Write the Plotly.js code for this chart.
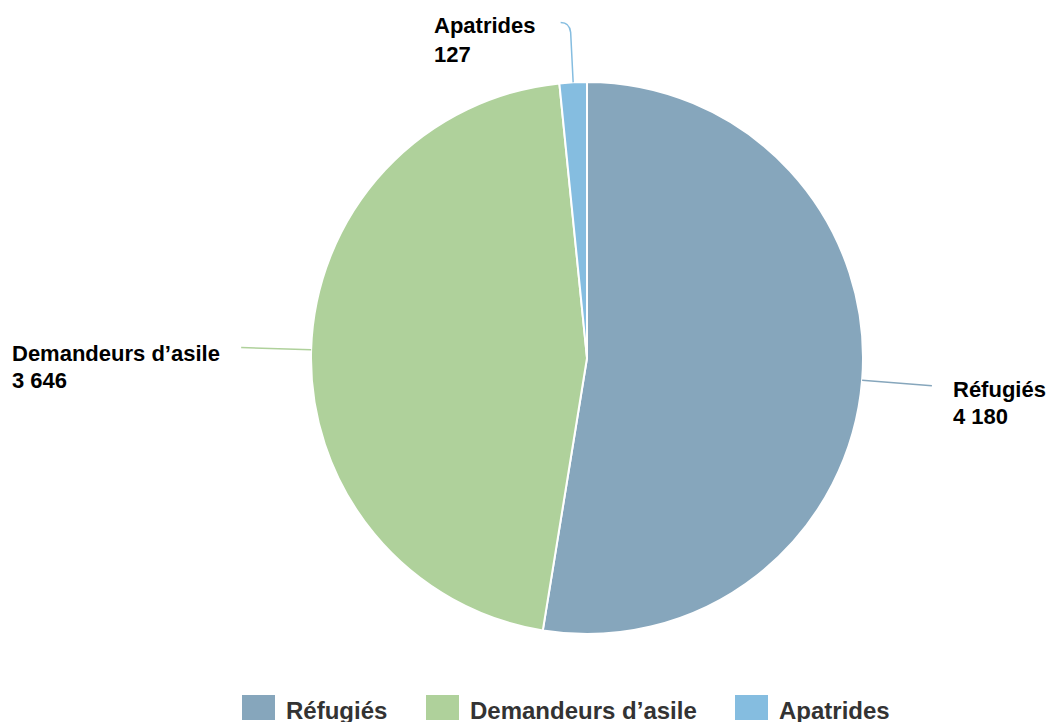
<!DOCTYPE html>
<html>
<head>
<meta charset="utf-8">
<script src="https://cdn.plot.ly/plotly-3.0.1.min.js"></script>
<style>html,body{margin:0;padding:0;background:#fff;}#chart{width:1048px;height:722px;}</style>
</head>
<body>
<div id="chart"></div>
<script>
// ---- data ----
const labels = ['Réfugiés', 'Demandeurs d’asile', 'Apatrides'];
const values = [4180, 3646, 127];
const colors = ['#86a6bc', '#afd19b', '#85bde0'];

// ---- layout geometry (pixels) ----
const W = 1048, H = 722;
const CX = 587, CY = 358, R = 276;
const FONT = 'Liberation Sans, Arial, Helvetica, sans-serif';
// label placement per slice: connector length, text left x, baselines
const labelCfg = [
  {len: 70, tx: 951, base: [397, 423.5]},
  {len: 70, tx: 10,  base: [360.7, 388.3]},
  {len: 50, tx: 432, base: [33.3, 61.7], crook: true}
];
const legendX = [242, 426, 735];   // legend swatch left edges
const swatchW = 33, swatchTop = 695, swatchBot = 720, legendBase = 718;

const px = x => x / W;
const py = y => 1 - y / H;
const fmt = v => String(v).replace(/\B(?=(\d{3})+(?!\d))/g, ' ');

const total = values.reduce((a, b) => a + b, 0);
const shapes = [], annotations = [];
let cum = 0;
values.forEach((v, i) => {
  const mid = (cum + v / 2) / total * 2 * Math.PI; // clockwise from 12 o'clock
  cum += v;
  const s = Math.sin(mid), c = Math.cos(mid);
  const cfg = labelCfg[i];
  const x0 = CX + R * s, y0 = CY - R * c;
  const x1 = CX + (R + cfg.len) * s, y1 = CY - (R + cfg.len) * c;
  let path;
  if (cfg.crook) {
    const xe = x1 - 10, ye = y1 - 10;
    path = `M${px(x0)},${py(y0)} L${px(x1)},${py(y1)} Q${px(x1 - 1)},${py(ye)} ${px(xe)},${py(ye)}`;
  } else {
    path = `M${px(x0)},${py(y0)} L${px(x1)},${py(y1)}`;
  }
  shapes.push({type: 'path', xref: 'paper', yref: 'paper', path: path,
    line: {color: colors[i], width: 1.5}});
  [labels[i], fmt(v)].forEach((t, k) => {
    annotations.push({xref: 'paper', yref: 'paper', x: px(cfg.tx), y: py(cfg.base[k] - 7.3),
      xanchor: 'left', yanchor: 'middle', showarrow: false, align: 'left',
      text: '<b>' + t + '</b>', font: {family: FONT, size: 22, color: '#000'}});
  });
  // legend item
  shapes.push({type: 'rect', xref: 'paper', yref: 'paper',
    x0: px(legendX[i]), x1: px(legendX[i] + swatchW), y0: py(swatchBot), y1: py(swatchTop),
    fillcolor: colors[i], line: {width: 0}});
  annotations.push({xref: 'paper', yref: 'paper', x: px(legendX[i] + swatchW + 9), y: py(legendBase - 8),
    xanchor: 'left', yanchor: 'middle', showarrow: false,
    text: '<b>' + labels[i] + '</b>', font: {family: FONT, size: 24, color: '#333'}});
});

const trace = {
  type: 'pie',
  labels: labels,
  values: values,
  sort: false,
  direction: 'clockwise',
  rotation: 0,
  textinfo: 'none',
  hoverinfo: 'label+value',
  marker: {colors: colors, line: {color: '#fff', width: 2}},
  domain: {x: [px(CX - R), px(CX + R)], y: [py(CY + R), py(CY - R)]},
  showlegend: false
};

Plotly.newPlot('chart', [trace], {
  width: W, height: H,
  margin: {l: 0, r: 0, t: 0, b: 0},
  paper_bgcolor: '#fff',
  showlegend: false,
  shapes: shapes,
  annotations: annotations,
  font: {family: FONT}
}, {displayModeBar: false, staticPlot: true});
</script>
</body>
</html>
